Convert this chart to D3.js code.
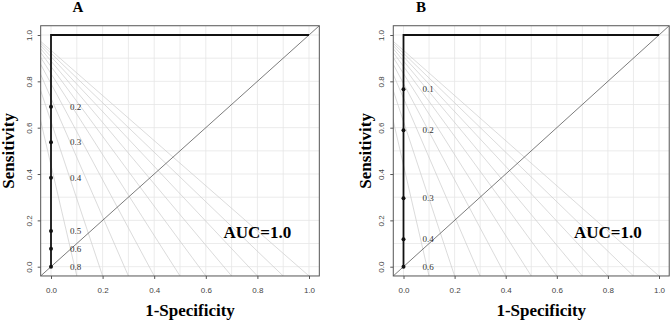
<!DOCTYPE html>
<html>
<head>
<meta charset="utf-8">
<script src="https://cdn.jsdelivr.net/npm/d3@7/dist/d3.min.js"></script>
<style>
  body { margin: 0; background: #fff; }
  svg { display: block; }
</style>
</head>
<body>
<svg id="chart" width="670" height="321"></svg>
<script>
// axis ticks and grid
const tickValues = [0, 0.2, 0.4, 0.6, 0.8, 1.0];
const gridValues = [0, 0.1, 0.2, 0.3, 0.4, 0.5, 0.6, 0.7, 0.8, 0.9, 1.0];

// ROC curve (same for both panels, AUC = 1)
const rocFpr = [0, 0, 1];
const rocSens = [0, 1, 1];

// labelled cutoffs along the curve
const cutoffsA = ["0.2", "0.3", "0.4", "0.5", "0.6", "0.8"];
const sensA = [0.69, 0.537, 0.384, 0.154, 0.078, 0];
const cutoffsB = ["0.1", "0.2", "0.3", "0.4", "0.6"];
const sensB = [0.766, 0.589, 0.295, 0.118, 0];

// grey fan lines: common origin and where each meets the bottom
const fanOrigin = [-0.13, 1.06];
const fanEnds = [0.1, 0.2, 0.3, 0.4, 0.5, 0.6, 0.7, 0.8, 0.9, 1.0];
const fanBottom = -0.04;

const aucLabel = "AUC=1.0";

const panels = [
  { title: "A", fpr: rocFpr, sens: rocSens, cut: cutoffsA, pts: sensA, x0: 51, x1: 309, titleX: 78, ylabX: 14 },
  { title: "B", fpr: rocFpr, sens: rocSens, cut: cutoffsB, pts: sensB, x0: 403.5, x1: 659, titleX: 421, ylabX: 371 }
];

const svg = d3.select("#chart");
const serif = "'Liberation Serif', 'Times New Roman', serif";
const sans = "'Liberation Sans', Arial, sans-serif";

panels.forEach((p, pi) => {
  const x = d3.scaleLinear().domain([0, 1]).range([p.x0, p.x1]);
  const y = d3.scaleLinear().domain([0, 1]).range([266.7, 35]);
  const lo = -0.04, hi = 1.04;

  const g = svg.append("g");

  // clip region = plot box
  const clipId = "clip" + pi;
  svg.append("clipPath").attr("id", clipId)
    .append("rect")
    .attr("x", x(lo)).attr("y", y(hi))
    .attr("width", x(hi) - x(lo)).attr("height", y(lo) - y(hi));

  const inner = g.append("g").attr("clip-path", `url(#${clipId})`);

  // grid
  inner.selectAll(".gv").data(gridValues).join("line")
    .attr("class", "gv")
    .attr("x1", d => x(d)).attr("x2", d => x(d))
    .attr("y1", y(lo)).attr("y2", y(hi))
    .attr("stroke", "#e6e6e6").attr("stroke-width", 0.8);
  inner.selectAll(".gh").data(gridValues).join("line")
    .attr("class", "gh")
    .attr("y1", d => y(d)).attr("y2", d => y(d))
    .attr("x1", x(lo)).attr("x2", x(hi))
    .attr("stroke", "#e6e6e6").attr("stroke-width", 0.8);

  // fan lines
  inner.selectAll(".fan").data(fanEnds).join("line")
    .attr("class", "fan")
    .attr("x1", x(fanOrigin[0])).attr("y1", y(fanOrigin[1]))
    .attr("x2", d => x(d)).attr("y2", y(fanBottom))
    .attr("stroke", "#cccccc").attr("stroke-width", 0.7);

  // diagonal
  inner.append("line")
    .attr("x1", x(lo)).attr("y1", y(lo))
    .attr("x2", x(hi)).attr("y2", y(hi))
    .attr("stroke", "#444").attr("stroke-width", 0.7);

  // ROC curve
  const line = d3.line().x(d => x(d[0])).y(d => y(d[1]));
  inner.append("path")
    .datum(p.fpr.map((f, i) => [f, p.sens[i]]))
    .attr("fill", "none")
    .attr("stroke", "#111")
    .attr("stroke-width", 1.8)
    .attr("d", line);

  // cutoff points + labels
  g.selectAll(".pt").data(p.pts).join("circle")
    .attr("class", "pt")
    .attr("cx", x(0)).attr("cy", d => y(d))
    .attr("r", 2).attr("fill", "#111");
  g.selectAll(".cl").data(p.cut).join("text")
    .attr("class", "cl")
    .attr("x", x(0.074)).attr("y", (d, i) => y(p.pts[i]) + 3)
    .attr("font-family", serif).attr("font-size", 9).attr("fill", "#333")
    .text(d => d);

  // box
  g.append("rect")
    .attr("x", x(lo)).attr("y", y(hi))
    .attr("width", x(hi) - x(lo)).attr("height", y(lo) - y(hi))
    .attr("fill", "none").attr("stroke", "#555").attr("stroke-width", 1);

  // axes
  const xAxis = g.append("g")
    .attr("transform", `translate(0,${y(lo)})`)
    .call(d3.axisBottom(x).tickValues(tickValues).tickFormat(d3.format(".1f")).tickSize(3).tickPadding(8));
  const yAxis = g.append("g")
    .attr("transform", `translate(${x(lo)},0)`)
    .call(d3.axisLeft(y).tickValues(tickValues).tickFormat(d3.format(".1f")).tickSize(3).tickPadding(4));
  [xAxis, yAxis].forEach(a => {
    a.select(".domain").remove();
    a.selectAll(".tick line").attr("stroke", "#555");
    a.selectAll(".tick text").attr("font-family", sans).attr("font-size", 8).attr("fill", "#444");
  });
  yAxis.selectAll(".tick text")
    .attr("transform", "rotate(-90)")
    .attr("x", 0).attr("y", -9)
    .attr("text-anchor", "middle").attr("dy", 0);

  // AUC text
  g.append("text")
    .attr("x", x(0.8)).attr("y", y(0.15) + 6)
    .attr("text-anchor", "middle")
    .attr("font-family", serif).attr("font-weight", "bold").attr("font-size", 17)
    .text(aucLabel);

  // titles and axis labels
  g.append("text")
    .attr("x", p.titleX).attr("y", 12)
    .attr("text-anchor", "middle")
    .attr("font-family", serif).attr("font-weight", "bold").attr("font-size", 15)
    .text(p.title);
  g.append("text")
    .attr("x", (x(0) + x(1)) / 2 + 10).attr("y", 316)
    .attr("text-anchor", "middle")
    .attr("font-family", serif).attr("font-weight", "bold").attr("font-size", 17)
    .text("1-Specificity");
  g.append("text")
    .attr("transform", `translate(${p.ylabX},${y(0.5)})rotate(-90)`)
    .attr("text-anchor", "middle")
    .attr("font-family", serif).attr("font-weight", "bold").attr("font-size", 17)
    .text("Sensitivity");
});
</script>
</body>
</html>
